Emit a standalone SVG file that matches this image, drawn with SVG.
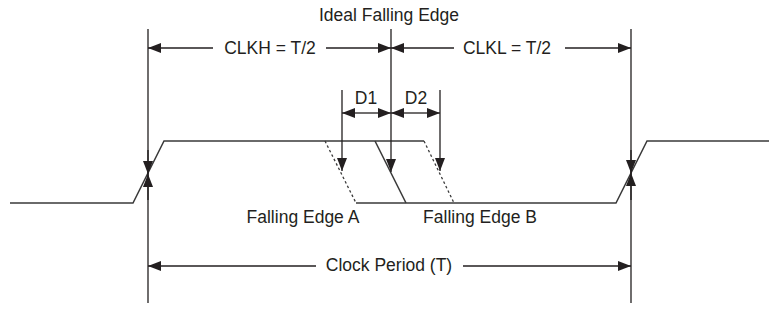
<svg xmlns="http://www.w3.org/2000/svg" width="770" height="323" viewBox="0 0 770 323">
  <defs>
    <marker id="ah" markerUnits="userSpaceOnUse" markerWidth="13" markerHeight="10" refX="13" refY="5" orient="auto">
      <path d="M0,0 L13,5 L0,10 z" fill="#231f20"/>
    </marker>
    <style>
      .t { font-family: "Liberation Sans", Arial, sans-serif; font-size: 17.5px; fill: #231f20; text-anchor: middle; }
      .v { stroke: #231f20; stroke-width: 1.3; fill: none; }
      .w { stroke: #3a3a3a; stroke-width: 1.5; fill: none; stroke-linejoin: miter; }
      .d { stroke: #3a3a3a; stroke-width: 1.3; fill: none; stroke-dasharray: 2.5 2.5; }
      .a { stroke: #231f20; stroke-width: 1.3; fill: none; marker-end: url(#ah); }
    </style>
  </defs>
  <rect width="770" height="323" fill="#ffffff"/>

  <g id="waveform">
    <polyline class="w" points="10,203 133,203 164,141 424,141"/>
    <polyline class="w" points="375,141 406,203"/>
    <polyline class="w" points="356,203 616,203 647,141 769,141"/>
    <line class="d" x1="325" y1="141" x2="356" y2="203"/>
    <line class="d" x1="424" y1="141" x2="454" y2="203"/>
  </g>

  <g id="connectors">
    <!-- left reference line -->
    <line class="v" x1="148" y1="29" x2="148" y2="303"/>
    <line class="a" x1="148" y1="150" x2="148" y2="174"/>
    <line class="a" x1="148" y1="200" x2="148" y2="174"/>
    <!-- right reference line -->
    <line class="v" x1="631" y1="29" x2="631" y2="303"/>
    <line class="a" x1="631" y1="150" x2="631" y2="173"/>
    <line class="a" x1="631" y1="200" x2="631" y2="173"/>
    <!-- ideal falling edge line -->
    <line class="a" x1="391" y1="29" x2="391" y2="172"/>
    <!-- D1 / D2 verticals -->
    <line class="a" x1="342" y1="90" x2="342" y2="171"/>
    <line class="a" x1="440" y1="90" x2="440" y2="171"/>
    <!-- CLKH -->
    <line class="a" x1="213" y1="48" x2="148" y2="48"/>
    <line class="a" x1="326" y1="48" x2="391" y2="48"/>
    <!-- CLKL -->
    <line class="a" x1="454" y1="48" x2="391" y2="48"/>
    <line class="a" x1="565" y1="48" x2="631" y2="48"/>
    <!-- D1 -->
    <line class="a" x1="366" y1="113" x2="342" y2="113"/>
    <line class="a" x1="366" y1="113" x2="391" y2="113"/>
    <!-- D2 -->
    <line class="a" x1="416" y1="113" x2="391" y2="113"/>
    <line class="a" x1="416" y1="113" x2="440" y2="113"/>
    <!-- Clock period -->
    <line class="a" x1="316" y1="266" x2="148" y2="266"/>
    <line class="a" x1="463" y1="266" x2="631" y2="266"/>
  </g>

  <g id="labels">
    <text id="ideal" class="t" x="389" y="21">Ideal Falling Edge</text>
    <text id="clkh" class="t" x="270" y="54">CLKH = T/2</text>
    <text id="clkl" class="t" x="507" y="54">CLKL = T/2</text>
    <text id="d1" class="t" x="366" y="104">D1</text>
    <text id="d2" class="t" x="416" y="104">D2</text>
    <text id="edgeA" class="t" x="303" y="223">Falling Edge A</text>
    <text id="edgeB" class="t" x="480" y="223">Falling Edge B</text>
    <text id="period" class="t" x="389" y="271">Clock Period (T)</text>
  </g>
</svg>
